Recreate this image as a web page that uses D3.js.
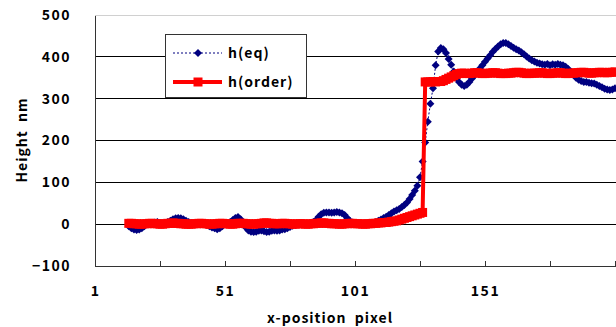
<!DOCTYPE html>
<html>
<head>
<meta charset="utf-8">
<script src="https://cdn.jsdelivr.net/npm/d3@7"></script>
<style>
  body { margin: 0; background: #fff; }
  svg text { font-family: "Noto Sans CJK JP", "DejaVu Sans", sans-serif; font-weight: bold; fill: #000; }
</style>
</head>
<body>
<svg width="616" height="327"></svg>
<script>
// x-position pixel 14 .. 201
const firstPixel = 14
const hEq = [
  -5,-10,-13,-14,-13,-10,-5,0,2,3,
  4,5,3,2,3,5,8,12,14,15,
  14,12,8,5,3,2,0,1,2,0,
  -2,-5,-8,-10,-12,-10,-5,0,3,5,
  10,15,17,12,3,-8,-15,-18,-19,-18,
  -16,-15,-17,-19,-18,-16,-15,-16,-15,-13,
  -12,-10,-7,-4,-2,0,1,2,1,0,
  2,5,10,18,24,27,28,28,27,28,
  29,28,26,22,15,8,4,2,1,2,
  1,2,3,3,3,5,8,11,15,18,
  22,26,30,33,36,41,46,52,60,70,
  80,92,112,150,195,245,288,325,380,413,
  421,418,409,395,381,365,350,340,333,330,
  333,340,348,356,364,372,380,388,396,404,
  412,419,425,430,433,433,430,426,422,418,
  415,411,406,401,396,392,389,386,384,382,
  381,383,380,382,381,383,381,380,376,371,
  365,358,350,345,342,340,340,338,337,336,
  333,330,327,324,322,321,322,325
]
const hOrder = [
  2,2,1,1,0,0,1,1,2,2,
  1,1,0,0,1,2,2,3,2,2,
  1,1,0,0,0,1,1,2,2,1,
  1,0,0,1,1,2,2,1,1,0,
  0,1,2,2,2,1,1,0,0,1,
  1,2,3,3,2,2,1,1,1,2,
  2,1,1,0,0,1,1,1,0,0,
  1,1,2,2,3,3,2,2,1,1,
  1,0,0,1,1,2,2,1,1,1,
  0,0,1,1,2,2,3,3,4,4,
  5,6,7,8,10,12,14,16,18,20,
  22,24,26,28,340,340,340,341,340,341,
  341,343,346,349,352,355,358,360,361,361,
  360,360,361,362,362,361,360,360,361,361,
  362,362,361,360,360,360,361,361,362,363,
  363,362,361,360,360,361,361,361,362,362,
  361,360,360,361,361,362,362,361,360,360,
  361,361,362,362,363,363,362,361,361,362,
  362,363,363,362,362,363,363,364
]
const yTicks = [-100, 0, 100, 200, 300, 400, 500]
const xTicks = [1, 26, 51, 76, 101, 126, 151, 176, 201]
const xLabels = [1, 51, 101, 151]

var svg = d3.select("svg")
const x = d3.scaleLinear().domain([1, 201]).range([95, 615])
const y = d3.scaleLinear().domain([-100, 500]).range([266, 15])

const eqData = hEq.map((v, i) => ({ px: firstPixel + i, value: v }))
const orderData = hOrder.map((v, i) => ({ px: firstPixel + i, value: v }))

// gridlines
svg.append("g")
  .selectAll("line")
  .data(yTicks.filter(d => d > -100))
  .join("line")
  .attr("x1", 95).attr("x2", 616)
  .attr("y1", d => y(d)).attr("y2", d => y(d))
  .attr("stroke", d => d == 500 ? "#d0d0d0" : "#000")
  .attr("stroke-width", 1)
  .attr("shape-rendering", "crispEdges")

// y axis
const yAxis = svg.append("g")
  .attr("transform", "translate(95,0)")
  .call(d3.axisLeft(y).tickValues(yTicks).tickSize(0).tickPadding(24).tickFormat(d => d < 0 ? "\u2212" + (-d) : d))
yAxis.select(".domain").attr("stroke", "#333").attr("shape-rendering", "crispEdges")
yAxis.selectAll("text")
  .style("font-size", "14px")
  .style("letter-spacing", "1.5px")
  .attr("fill", "#000")

// x axis
const xAxis = svg.append("g")
  .attr("transform", "translate(0,266)")
  .call(d3.axisBottom(x).tickValues(xTicks).tickSizeInner(-5).tickSizeOuter(0).tickPadding(20)
    .tickFormat(d => xLabels.includes(d) ? d : ""))
xAxis.select(".domain").attr("stroke", "#333").attr("shape-rendering", "crispEdges")
xAxis.selectAll(".tick line").attr("stroke", "#333")
xAxis.selectAll("text")
  .style("font-size", "14px")
  .style("letter-spacing", "1.5px")
  .attr("fill", "#000")

// axis titles
svg.append("text")
  .attr("transform", "translate(27,140) rotate(-90)")
  .attr("text-anchor", "middle")
  .style("font-size", "14px")
  .style("letter-spacing", "1px")
  .style("white-space", "pre")
  .text("Height  nm")

svg.append("text")
  .attr("x", 330).attr("y", 323)
  .attr("text-anchor", "middle")
  .style("font-size", "14px")
  .style("letter-spacing", "1px")
  .style("white-space", "pre")
  .text("x-position  pixel")

const plot = svg.append("g")

// h(eq): dotted navy line with diamonds
const line = d3.line().x(d => x(d.px)).y(d => y(d.value))
plot.append("path")
  .datum(eqData)
  .attr("d", line)
  .attr("fill", "none")
  .attr("stroke", "#000080")
  .attr("stroke-width", 1)
  .attr("stroke-dasharray", "2,2")

const diamond = "M0,-4L4,0L0,4L-4,0Z"
plot.selectAll(".eq")
  .data(eqData)
  .join("path")
  .attr("class", "eq")
  .attr("d", diamond)
  .attr("transform", d => "translate(" + x(d.px) + "," + y(d.value) + ")")
  .attr("fill", "#000080")

// h(order): thick red line with squares
plot.append("path")
  .datum(orderData)
  .attr("d", line)
  .attr("fill", "none")
  .attr("stroke", "#ff0000")
  .attr("stroke-width", 4)

plot.selectAll(".ord")
  .data(orderData)
  .join("rect")
  .attr("class", "ord")
  .attr("x", d => x(d.px) - 4.5)
  .attr("y", d => y(d.value) - 4.5)
  .attr("width", 9)
  .attr("height", 9)
  .attr("fill", "#ff0000")

// legend
const lg = svg.append("g")
lg.append("rect")
  .attr("x", 165.5).attr("y", 34.5)
  .attr("width", 141).attr("height", 63)
  .attr("fill", "#fff")
  .attr("stroke", "#333")

lg.append("line")
  .attr("x1", 173).attr("x2", 222).attr("y1", 53).attr("y2", 53)
  .attr("stroke", "#000080").attr("stroke-dasharray", "2,2")
lg.append("path")
  .attr("d", diamond)
  .attr("transform", "translate(198,53)")
  .attr("fill", "#000080")
lg.append("text")
  .attr("x", 228).attr("y", 58)
  .style("font-size", "14px")
  .style("letter-spacing", "1px")
  .text("h(eq)")

lg.append("line")
  .attr("x1", 173).attr("x2", 222).attr("y1", 82).attr("y2", 82)
  .attr("stroke", "#ff0000").attr("stroke-width", 4)
lg.append("rect")
  .attr("x", 193.5).attr("y", 77.5).attr("width", 9).attr("height", 9)
  .attr("fill", "#ff0000")
lg.append("text")
  .attr("x", 228).attr("y", 87)
  .style("font-size", "14px")
  .style("letter-spacing", "1px")
  .text("h(order)")
</script>
</body>
</html>
